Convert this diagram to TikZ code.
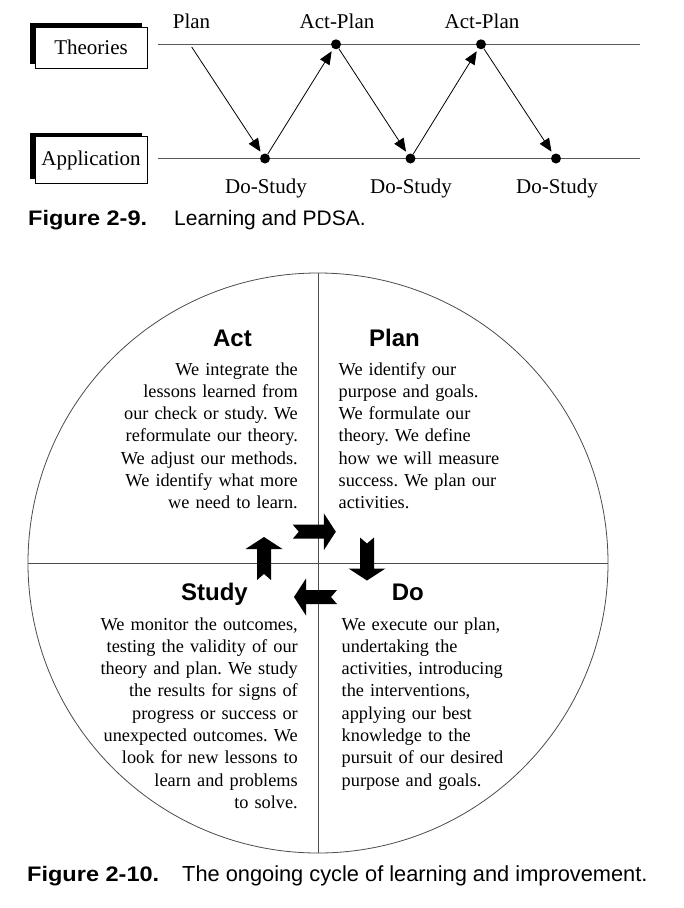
\documentclass[tikz,border=0pt]{standalone}
\usepackage{fontspec}
\setmainfont{Liberation Serif}
\setsansfont{Liberation Sans}
\newfontfamily\capfont{Liberation Sans}[FakeStretch=1.12]
\usetikzlibrary{arrows.meta,shadows}
\frenchspacing

\tikzset{
  dot/.style={circle,fill=black,inner sep=0pt,minimum size=10pt},
  tag/.style={anchor=base,inner sep=0pt,font=\fontsize{21}{25}\selectfont},
  level/.style={draw=black,fill=white,line width=0.8pt,minimum width=112pt,inner sep=0pt,
    font=\fontsize{21}{25}\selectfont,
    drop shadow={shadow xshift=-5pt,shadow yshift=4pt,fill=black,opacity=1}},
  track/.style={draw=black!65,line width=1pt},
  flow/.style={-{Triangle[length=13pt,width=11pt]},line width=0.8pt,shorten >=3pt},
  ring/.style={draw=black!70,line width=0.8pt},
  head/.style={inner sep=0pt,font=\sffamily\bfseries\fontsize{24}{28}\selectfont},
  body/.style={inner sep=0pt,text width=230pt,font=\fontsize{18.3}{22.3}\selectfont},
  figlabel/.style={anchor=base west,inner sep=0pt,font=\capfont\bfseries\fontsize{21}{25}\selectfont},
  figtext/.style={anchor=base west,inner sep=0pt,font=\sffamily\fontsize{21}{25}\selectfont},
  turn/.pic={\fill (-21.5,-7) -- (-15.5,0) -- (-21.5,7) -- (9.5,7) -- (9.5,18.5) -- (21.5,0)
    -- (9.5,-18.5) -- (9.5,-7) -- cycle;}
}

\begin{document}
\begin{tikzpicture}[x=1pt,y=-1pt]
\path[fill=white,use as bounding box] (0,0) rectangle (684,908);

\node[level,minimum height=41pt] (theories) at (91,47.5) {Theories};
\node[level,minimum height=46.6pt] (application) at (91,160) {Application};

\coordinate (t0) at (158,44.3);
\coordinate (t1) at (640,44.3);
\coordinate (a0) at (158,158.5);
\coordinate (a1) at (640,158.5);
\draw[track] (t0) -- (t1);
\draw[track] (a0) -- (a1);

\coordinate (start) at (191.7,47);
\node[dot] (act1) at (336,44.3) {};
\node[dot] (act2) at (481,44.3) {};
\node[dot] (do1) at (265,158.5) {};
\node[dot] (do2) at (410.5,158.5) {};
\node[dot] (do3) at (556,158.5) {};

\node[tag] (planlbl) at (191.5,28.3) {Plan};
\node[tag] (act1lbl) at (337,28.3) {Act-Plan};
\node[tag] (act2lbl) at (482,28.3) {Act-Plan};
\node[tag] (do1lbl) at (266,193.3) {Do-Study};
\node[tag] (do2lbl) at (411,193.3) {Do-Study};
\node[tag] (do3lbl) at (557,193.3) {Do-Study};

\draw[flow] (start) -- (do1);
\draw[flow] (do1) -- (act1);
\draw[flow] (act1) -- (do2);
\draw[flow] (do2) -- (act2);
\draw[flow] (act2) -- (do3);

\node[figlabel] (fig9) at (28,225) {Figure 2-9.};
\node[figtext] (fig9txt) at (174,225) {Learning and PDSA.};

\draw[ring] (318,563) circle [radius=290];
\draw[ring] (318,273) -- (318,853);
\draw[ring] (28,563) -- (608,563);

\node[head,anchor=base east] (act) at (252,346.7) {Act};
\node[head,anchor=base west] (plan) at (369,346.7) {Plan};
\node[head,anchor=base east] (study) at (248,600) {Study};
\node[head,anchor=base west] (do) at (391.7,600) {Do};

\node[body,align=right,anchor=base east] (acttxt) at (298,375) {We integrate the\\lessons learned from\\our check or study. We\\reformulate our theory.\\We adjust our methods.\\We identify what more\\we need to learn.};
\node[body,align=left,anchor=base west] (plantxt) at (338.5,375) {We identify our\\purpose and goals.\\We formulate our\\theory. We define\\how we will measure\\success. We plan our\\activities.};
\node[body,align=right,anchor=base east] (studytxt) at (298,630) {We monitor the outcomes,\\testing the validity of our\\theory and plan. We study\\the results for signs of\\progress or success or\\unexpected outcomes. We\\look for new lessons to\\learn and problems\\to solve.};
\node[body,align=left,anchor=base west] (dotxt) at (341.5,630) {We execute our plan,\\undertaking the\\activities, introducing\\the interventions,\\applying our best\\knowledge to the\\pursuit of our desired\\purpose and goals.};

\pic at (314.3,531.7) {turn};
\pic[rotate=-90] at (367,559) {turn};
\pic[rotate=180] at (315.5,597) {turn};
\pic[rotate=90] at (264,558.5) {turn};

\node[figlabel] (fig10) at (27,881.7) {Figure 2-10.};
\node[figtext,font=\sffamily\fontsize{21.8}{26}\selectfont] (fig10txt) at (182,881.7) {The ongoing cycle of learning and improvement.};
\end{tikzpicture}
\end{document}
